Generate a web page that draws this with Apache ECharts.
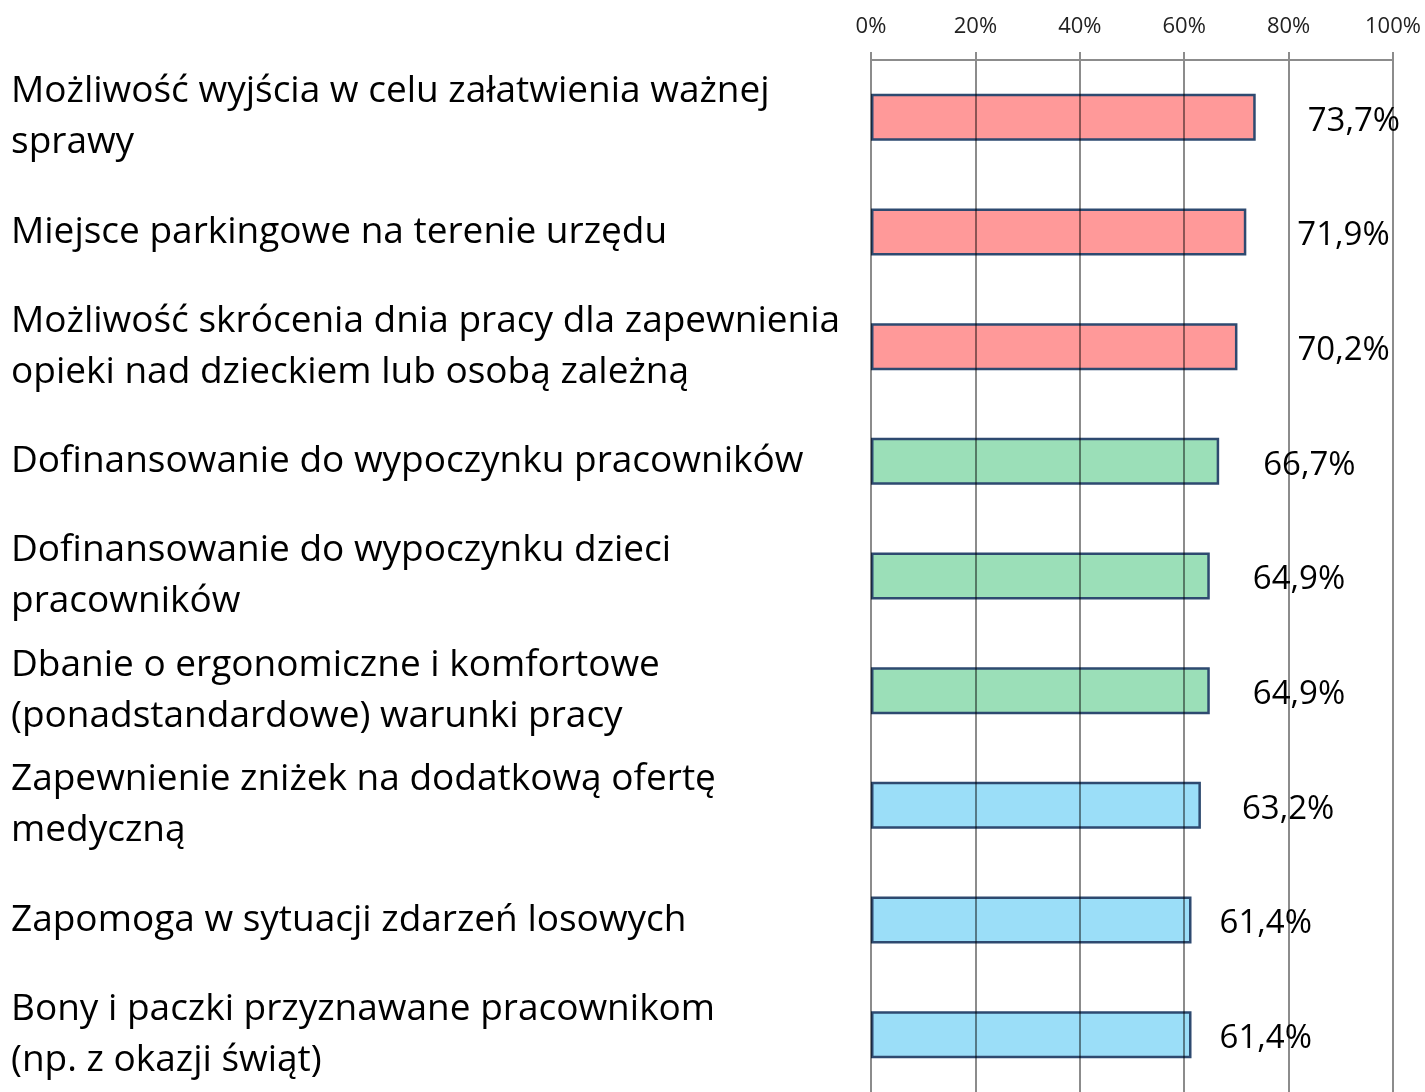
<!DOCTYPE html>
<html>
<head>
<meta charset="utf-8">
<script src="https://cdn.jsdelivr.net/npm/echarts@6/dist/echarts.min.js"></script>
<style>html,body{margin:0;padding:0;background:#fff}#c{width:1425px;height:1092px}</style>
</head>
<body>
<div id="c"></div>
<script>
var categories = [
  "Możliwość wyjścia w celu załatwienia ważnej\nsprawy",
  "Miejsce parkingowe na terenie urzędu",
  "Możliwość skrócenia dnia pracy dla zapewnienia\nopieki nad dzieckiem lub osobą zależną",
  "Dofinansowanie do wypoczynku pracowników",
  "Dofinansowanie do wypoczynku dzieci\npracowników",
  "Dbanie o ergonomiczne i komfortowe\n(ponadstandardowe) warunki pracy",
  "Zapewnienie zniżek na dodatkową ofertę\nmedyczną",
  "Zapomoga w sytuacji zdarzeń losowych",
  "Bony i paczki przyznawane pracownikom\n(np. z okazji świąt)"
];
var values = [73.7, 71.9, 70.2, 66.7, 64.9, 64.9, 63.2, 61.4, 61.4];
var groups = ["red", "red", "red", "green", "green", "green", "blue", "blue", "blue"];
var tickValues = [0, 20, 40, 60, 80, 100];

var groupColors = { red: "#FF9999", green: "#9BDFB8", blue: "#9BDEF8" };
var labelGap = [52, 51, 60, 44, 43, 43, 41, 28, 28];

var chart = echarts.init(document.getElementById('c'), null, {renderer: 'canvas'});
var FONT = "'Open Sans', sans-serif";
var data = values.map(function (v, i) {
  return {
    value: v,
    itemStyle: { color: groupColors[groups[i]] },
    label: { distance: labelGap[i] }
  };
});
chart.setOption({
  animation: false,
  backgroundColor: '#fff',
  grid: { left: 871, right: 32, top: 60, height: 1036 },
  xAxis: {
    type: 'value', position: 'top',
    min: tickValues[0], max: tickValues[tickValues.length - 1], interval: 20,
    z: 3,
    axisLine: { show: true, lineStyle: { color: '#8c8c8c', width: 2 } },
    axisTick: { show: true, length: 8, lineStyle: { color: '#8c8c8c', width: 2 } },
    splitLine: { show: true, lineStyle: { color: 'rgba(0,0,0,0.45)', width: 2 } },
    axisLabel: { formatter: '{value}%', fontSize: 22, color: '#222', fontFamily: FONT, margin: 22 }
  },
  yAxis: {
    type: 'category', inverse: true, data: categories,
    axisLine: { show: false }, axisTick: { show: false }, splitLine: { show: false },
    axisLabel: { align: 'left', margin: 860, fontSize: 37, lineHeight: 51, color: '#000', fontFamily: FONT, padding: [6, 0, 0, 0] }
  },
  series: [{
    type: 'bar',
    data: data,
    barWidth: '41%',
    itemStyle: { borderColor: '#2E4A70', borderWidth: 2.5 },
    label: {
      show: true, position: 'right', fontSize: 33, color: '#000', fontFamily: FONT,
      offset: [0, 4],
      formatter: function (p) { return p.value.toFixed(1).replace('.', ',') + '%'; }
    }
  }]
});
</script>
</body>
</html>
